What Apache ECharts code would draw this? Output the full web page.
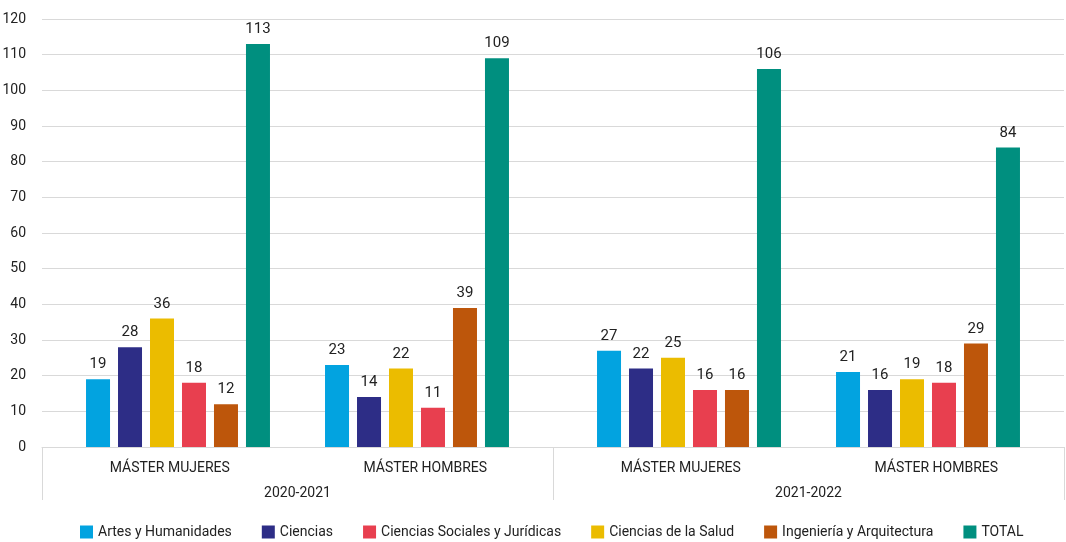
<!DOCTYPE html>
<html>
<head>
<meta charset="utf-8">
<script src="https://cdn.jsdelivr.net/npm/echarts@6/dist/echarts.min.js"></script>
<style>html,body{margin:0;padding:0;background:#fff}#c{width:1066px;height:542px}</style>
</head>
<body>
<div id="c"></div>
<script>
// Data
var groups = ['MÁSTER MUJERES', 'MÁSTER HOMBRES', 'MÁSTER MUJERES', 'MÁSTER HOMBRES'];
var years = ['2020-2021', '2021-2022'];
var yTicks = {min: 0, max: 120, interval: 10};
// values per group: [MM 20-21, MH 20-21, MM 21-22, MH 21-22]
var artes = [19, 23, 27, 21];
var ciencias = [28, 14, 22, 16];
var salud = [36, 22, 25, 19];
var sociales = [18, 11, 16, 18];
var ingenieria = [12, 39, 16, 29];
var total = [113, 109, 106, 84];

var seriesDefs = [
  {name: 'Artes y Humanidades', data: artes, color: '#02A3E0'},
  {name: 'Ciencias', data: ciencias, color: '#2D2D86'},
  {name: 'Ciencias de la Salud', data: salud, color: '#EBBC00'},
  {name: 'Ciencias Sociales y Jurídicas', data: sociales, color: '#E83F4F'},
  {name: 'Ingeniería y Arquitectura', data: ingenieria, color: '#BD560B'},
  {name: 'TOTAL', data: total, color: '#008F7F'}
];
var legendOrder = ['Artes y Humanidades', 'Ciencias', 'Ciencias Sociales y Jurídicas', 'Ciencias de la Salud', 'Ingeniería y Arquitectura', 'TOTAL'];

var FONT = "Roboto, 'DejaVu Sans', sans-serif";
var TXT = '#222222';
var LINE = '#D9D9D9';

var chart = echarts.init(document.getElementById('c'), null, {renderer: 'canvas'});

var series = [];
for (var g = 0; g < 2; g++) {
  seriesDefs.forEach(function (s) {
    series.push({
      type: 'bar',
      name: s.name,
      xAxisIndex: 2 + g,
      yAxisIndex: 1 + g,
      data: s.data.slice(g * 2, g * 2 + 2),
      barWidth: 24,
      barGap: '33.3%',
      itemStyle: {color: s.color},
      label: {show: true, position: 'top', distance: 7, color: TXT, fontFamily: FONT, fontSize: 15}
    });
  });
}

var hiddenY = {type: 'value', min: yTicks.min, max: yTicks.max, interval: yTicks.interval, show: false, splitLine: {show: false}};

chart.setOption({
  animation: false,
  textStyle: {fontFamily: FONT},
  legend: {
    data: legendOrder,
    bottom: 3,
    left: 80,
    padding: 0,
    icon: 'rect',
    itemWidth: 13,
    itemHeight: 13,
    itemGap: 30,
    textStyle: {color: TXT, fontFamily: FONT, fontSize: 14}
  },
  grid: [
    {left: 42, right: 2, top: 19, bottom: 95, outerBoundsMode: 'none'},
    {left: 58.5, width: 478, top: 19, bottom: 95, outerBoundsMode: 'none'},
    {left: 569.5, width: 478, top: 19, bottom: 95, outerBoundsMode: 'none'}
  ],
  xAxis: [
    {
      type: 'category', gridIndex: 0, data: groups, position: 'bottom',
      axisLine: {show: true, lineStyle: {color: LINE, width: 1}},
      axisTick: {show: false},
      axisLabel: {color: TXT, fontFamily: FONT, fontSize: 14, margin: 14, interval: 0}
    },
    {
      type: 'category', gridIndex: 0, data: years, position: 'bottom',
      axisLine: {show: false},
      axisTick: {show: true, length: 53, lineStyle: {color: LINE, width: 1}},
      axisLabel: {color: TXT, fontFamily: FONT, fontSize: 14, margin: 39, interval: 0}
    },
    {type: 'category', gridIndex: 1, data: groups.slice(0, 2), show: false},
    {type: 'category', gridIndex: 2, data: groups.slice(2, 4), show: false}
  ],
  yAxis: [
    {
      type: 'value', gridIndex: 0, min: yTicks.min, max: yTicks.max, interval: yTicks.interval,
      axisLine: {show: false}, axisTick: {show: false},
      axisLabel: {color: TXT, fontFamily: FONT, fontSize: 14, margin: 16},
      splitLine: {show: true, lineStyle: {color: LINE, width: 1}}
    },
    Object.assign({gridIndex: 1}, hiddenY),
    Object.assign({gridIndex: 2}, hiddenY)
  ],
  series: series
});
</script>
</body>
</html>
